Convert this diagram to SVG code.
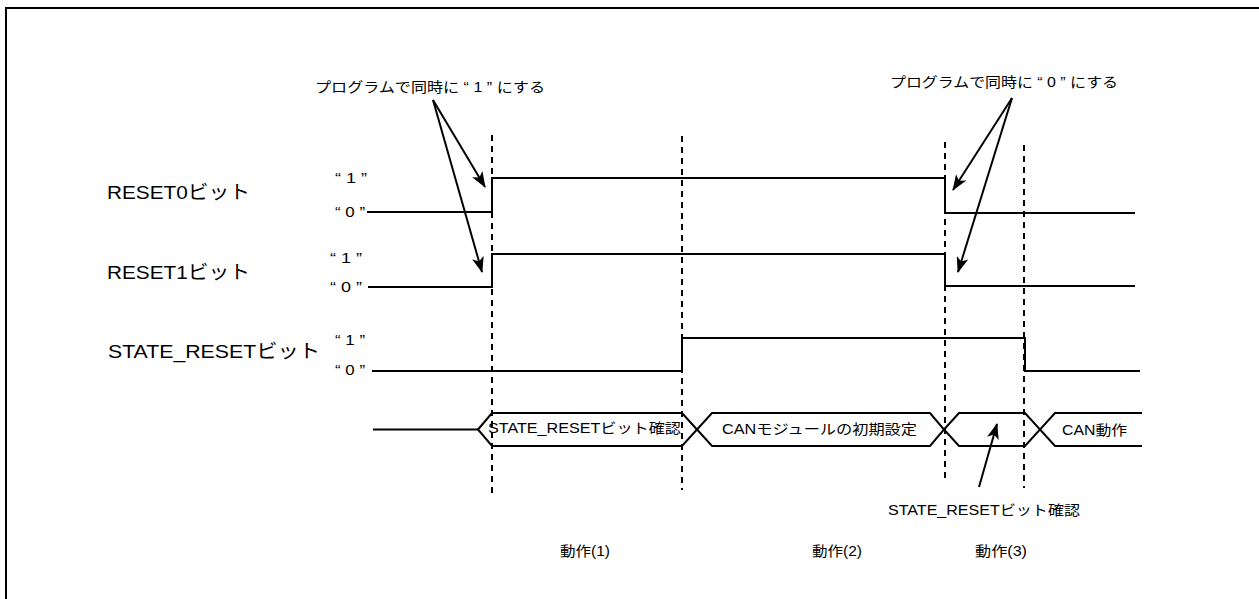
<svg xmlns="http://www.w3.org/2000/svg" width="1259" height="599" viewBox="0 0 1259 599">
<style>
text{font-family:"Liberation Sans","Noto Sans CJK JP",sans-serif;fill:#000;dominant-baseline:central}
.sig{font-size:19px}
.q{font-size:14px}
.lbl{font-size:14px}
.ln{fill:none;stroke:#000;stroke-width:2}
.dash{fill:none;stroke:#000;stroke-width:2;stroke-dasharray:6,5}
.arr{fill:none;stroke:#000;stroke-width:2;marker-end:url(#ah)}
</style>
<defs>
<marker id="ah" markerUnits="userSpaceOnUse" markerWidth="16" markerHeight="12" refX="15" refY="6" orient="auto" viewBox="0 0 16 12">
<path d="M0,0 L16,6 L0,12 L4,6 Z" fill="#000"/>
</marker>
</defs>
<rect width="1259" height="599" fill="#fff"/>
<path d="M6,600 V8 H1260" fill="none" stroke="#000" stroke-width="2"/>

<g id="reset0">
<text class="sig" x="107" y="192" textLength="143" lengthAdjust="spacingAndGlyphs">RESET0ビット</text>
<text class="q" x="335" y="178" textLength="32" lengthAdjust="spacingAndGlyphs">“ 1 ”</text>
<text class="q" x="335" y="212" textLength="30" lengthAdjust="spacingAndGlyphs">“ 0 ”</text>
<path class="ln" d="M367,212 H492 V178 H945 V213 H1135"/>
</g>
<g id="reset1">
<text class="sig" x="107" y="272" textLength="143" lengthAdjust="spacingAndGlyphs">RESET1ビット</text>
<text class="q" x="330" y="258" textLength="32" lengthAdjust="spacingAndGlyphs">“ 1 ”</text>
<text class="q" x="330" y="287" textLength="32" lengthAdjust="spacingAndGlyphs">“ 0 ”</text>
<path class="ln" d="M368,287 H492 V254 H945 V286 H1135"/>
</g>
<g id="state_reset">
<text class="sig" x="108" y="351" textLength="212" lengthAdjust="spacingAndGlyphs">STATE_RESETビット</text>
<text class="q" x="335" y="340" textLength="30" lengthAdjust="spacingAndGlyphs">“ 1 ”</text>
<text class="q" x="335" y="370" textLength="30" lengthAdjust="spacingAndGlyphs">“ 0 ”</text>
<path class="ln" d="M372,371 H682 V338 H1025 V371 H1140"/>
</g>

<g id="bus">
<path class="ln" d="M373,429.5 H478"/>
<g id="op1"><polygon class="ln" points="478,429.5 492,413 682,413 697,429.5 682,446 492,446"/>
<text class="lbl" x="488" y="428" textLength="193" lengthAdjust="spacingAndGlyphs">STATE_RESETビット確認</text></g>
<g id="op2"><polygon class="ln" points="697,429.5 712,413 930,413 944,429.5 930,446 712,446"/>
<text class="lbl" x="722" y="429" textLength="195" lengthAdjust="spacingAndGlyphs">CANモジュールの初期設定</text></g>
<g id="op3"><polygon class="ln" points="944,429.5 959,413 1025,413 1040,429.5 1025,446 959,446"/></g>
<g id="op4"><path class="ln" d="M1142,413 H1055 L1040,429.5 L1055,446 H1142"/>
<text class="lbl" x="1062" y="430" textLength="65" lengthAdjust="spacingAndGlyphs">CAN動作</text></g>
</g>

<g id="phases">
<path class="dash" d="M492,135 V494"/>
<path class="dash" d="M682,136 V490"/>
<path class="dash" d="M945,142 V478"/>
<path class="dash" d="M1024,145 V488"/>
</g>

<g id="notes">
<text class="lbl" x="315" y="87" textLength="230" lengthAdjust="spacingAndGlyphs">プログラムで同時に “ 1 ” にする</text>
<text class="lbl" x="890" y="82" textLength="228" lengthAdjust="spacingAndGlyphs">プログラムで同時に “ 0 ” にする</text>
<text class="lbl" x="888" y="510" textLength="192" lengthAdjust="spacingAndGlyphs">STATE_RESETビット確認</text>
<text class="lbl" x="560" y="551" textLength="50" lengthAdjust="spacingAndGlyphs">動作(1)</text>
<text class="lbl" x="812" y="551" textLength="50" lengthAdjust="spacingAndGlyphs">動作(2)</text>
<text class="lbl" x="975" y="551" textLength="52" lengthAdjust="spacingAndGlyphs">動作(3)</text>
</g>

<g id="connectors">
<path class="arr" d="M433,100 L485,187"/>
<path class="arr" d="M433,100 L482,272"/>
<path class="arr" d="M1012,98 L953,190"/>
<path class="arr" d="M1012,98 L958,272"/>
<path class="arr" d="M979,487 L997,424"/>
</g>
</svg>
